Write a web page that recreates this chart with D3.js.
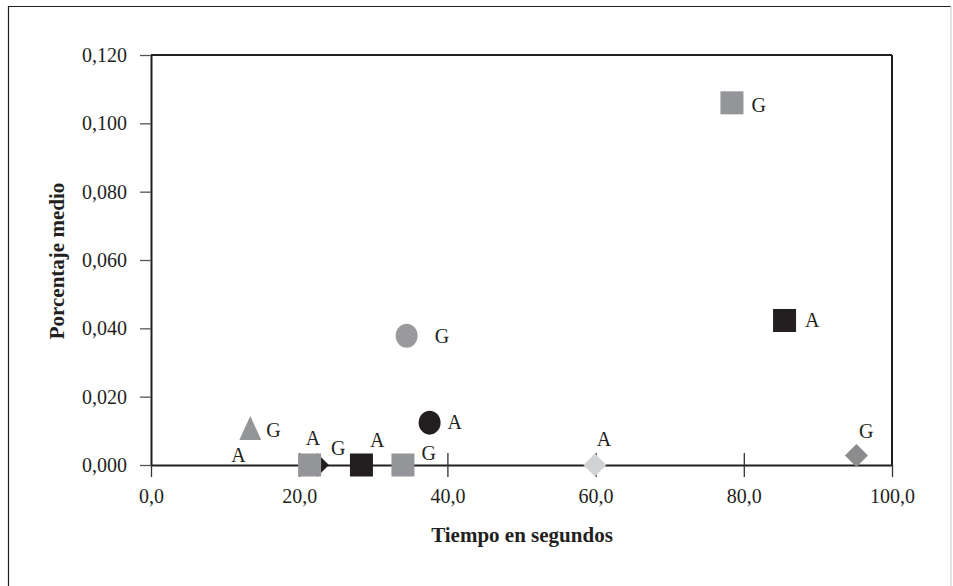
<!DOCTYPE html>
<html>
<head>
<meta charset="utf-8">
<script src="https://cdn.jsdelivr.net/npm/d3@7"></script>
<style>
  html, body { margin: 0; padding: 0; background: #fff; }
  svg { display: block; }
  text { font-family: "Liberation Serif", "DejaVu Serif", serif; fill: #231f20; }
</style>
</head>
<body>
<svg id="chart" width="953" height="586"></svg>
<script>
// ---- Data ----
const timeSec   = [13.4, 11.8, 23.2, 21.4, 28.4, 34.0, 34.5, 37.6, 59.9, 95.2, 78.4, 85.5];
const pctMean   = [0.0108, 0.000, 0.000, 0.000, 0.000, 0.000, 0.0378, 0.0124, 0.000, 0.0028, 0.106, 0.0423];
const pointTags = ["G", "A", "G", "A", "A", "G", "G", "A", "A", "G", "G", "A"];
const markerShapes = ["triangle", "none", "triangleRight", "square", "square", "square", "circle", "circle", "diamond", "diamond", "square", "square"];
const xTickValues = [0, 20, 40, 60, 80, 100];
const yTickValues = [0, 0.02, 0.04, 0.06, 0.08, 0.10, 0.12];
const xTitle = "Tiempo en segundos";
const yTitle = "Porcentaje medio";

// ---- Styles (separate from data) ----
const markerColors = ["#939598", "none", "#231f20", "#939598", "#231f20", "#939598", "#9a9a9c", "#231f20", "#d1d2d4", "#8c8c8e", "#939598", "#231f20"];
// label offsets relative to marker centre [dx, dy(baseline), anchor]
const labelLayout = [
  [16, 9, "start"], [0, -3, "middle"], [8, -10, "start"], [3.5, -20, "middle"],
  [8.5, -18, "start"], [18.5, -5, "start"], [28, 7, "start"], [18, 6, "start"],
  [2, -19, "start"], [2.5, -17.5, "start"], [19.5, 9, "start"], [20.5, 6.5, "start"]
];

const svg = d3.select("#chart");
const ink = "#231f20";

// outer frame
svg.append("line").attr("x1", 8).attr("y1", 6.5).attr("x2", 951).attr("y2", 6.5).attr("stroke", ink).attr("stroke-width", 1.2);
svg.append("line").attr("x1", 8.5).attr("y1", 6).attr("x2", 8.5).attr("y2", 586).attr("stroke", ink).attr("stroke-width", 1.2);
svg.append("line").attr("x1", 951).attr("y1", 6).attr("x2", 951).attr("y2", 586).attr("stroke", "#d0d0d0").attr("stroke-width", 1.2);

const x = d3.scaleLinear().domain([0, 100]).range([151, 892]);
const y = d3.scaleLinear().domain([0, 0.12]).range([465, 55]);

const fmtX = v => d3.format(".1f")(v).replace(".", ",");
const fmtY = v => d3.format(".3f")(v).replace(".", ",");

// plot frame: top and right
svg.append("line").attr("x1", x(0)).attr("x2", x(100)).attr("y1", y(0.12)).attr("y2", y(0.12)).attr("stroke", ink).attr("stroke-width", 2);
svg.append("line").attr("x1", x(100)).attr("x2", x(100)).attr("y1", y(0.12)).attr("y2", y(0)).attr("stroke", ink).attr("stroke-width", 2);

// Y axis
const yAxis = d3.axisLeft(y).tickValues(yTickValues).tickFormat(fmtY).tickSizeInner(11).tickSizeOuter(0).tickPadding(13);
const gy = svg.append("g").attr("transform", `translate(${x(0)},0)`).call(yAxis);
gy.select(".domain").attr("stroke", ink).attr("stroke-width", 2);
gy.selectAll(".tick line").attr("stroke", "#555").attr("stroke-width", 1.3);
gy.selectAll(".tick text").style("font-family", "Liberation Serif, serif").style("font-size", "20px").attr("fill", ink).attr("dy", "0.33em");

// X axis at y=0, ticks crossing
const xAxis = d3.axisBottom(x).tickValues(xTickValues).tickFormat(fmtX).tickSizeInner(12).tickSizeOuter(0).tickPadding(12);
const gx = svg.append("g").attr("transform", `translate(0,${y(0)})`).call(xAxis);
gx.select(".domain").attr("stroke", ink).attr("stroke-width", 2);
gx.selectAll(".tick line").attr("y1", d => (d === 0 || d === 100) ? 0 : -12).attr("stroke", "#333").attr("stroke-width", 1.3);
gx.selectAll(".tick text").style("font-family", "Liberation Serif, serif").style("font-size", "20px").attr("fill", ink);

// axis titles
svg.append("text").attr("x", 522).attr("y", 542).attr("text-anchor", "middle")
  .style("font-size", "21px").style("font-weight", "bold").text(xTitle);
svg.append("text").attr("transform", "translate(64,261) rotate(-90)").attr("text-anchor", "middle")
  .style("font-size", "21px").style("font-weight", "bold").text(yTitle);

// markers
const pts = timeSec.map((t, i) => ({ t, p: pctMean[i], tag: pointTags[i], shape: markerShapes[i], color: markerColors[i], lab: labelLayout[i] }));
const gm = svg.append("g");
pts.forEach(d => {
  const cx = x(d.t), cy = y(d.p);
  if (d.shape === "square") {
    gm.append("rect").attr("x", cx - 11.5).attr("y", cy - 11.5).attr("width", 23).attr("height", 23).attr("fill", d.color);
  } else if (d.shape === "circle") {
    gm.append("ellipse").attr("cx", cx).attr("cy", cy).attr("rx", 11).attr("ry", 12).attr("fill", d.color);
  } else if (d.shape === "diamond") {
    gm.append("path").attr("d", `M${cx},${cy - 11.5}L${cx + 11.5},${cy}L${cx},${cy + 11.5}L${cx - 11.5},${cy}Z`).attr("fill", d.color);
  } else if (d.shape === "triangle") {
    gm.append("path").attr("d", `M${cx},${cy - 12}L${cx + 11},${cy + 12}L${cx - 11},${cy + 12}Z`).attr("fill", d.color);
  } else if (d.shape === "triangleRight") {
    gm.append("path").attr("d", `M${cx + 6},${cy}L${cx - 6},${cy - 12}L${cx - 6},${cy + 12}Z`).attr("fill", d.color);
  }
});

// point labels
svg.append("g").selectAll("text").data(pts).join("text")
  .attr("x", d => x(d.t) + d.lab[0])
  .attr("y", d => y(d.p) + d.lab[1])
  .attr("text-anchor", d => d.lab[2])
  .style("font-size", "20px")
  .text(d => d.tag);
</script>
</body>
</html>
